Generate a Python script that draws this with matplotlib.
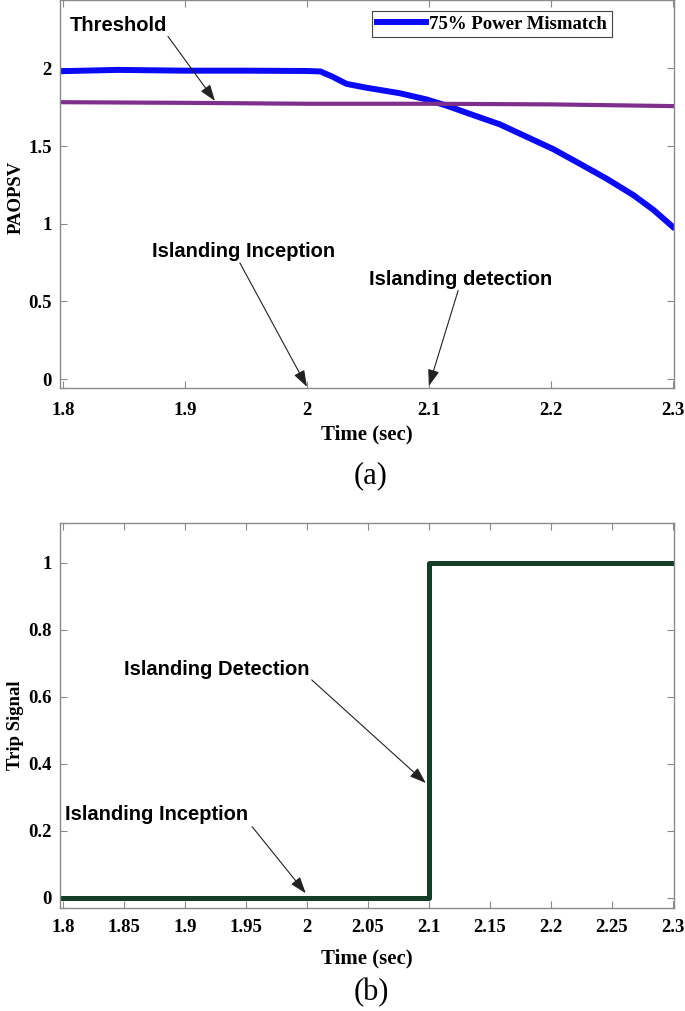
import matplotlib
matplotlib.use("Agg")
import matplotlib.pyplot as plt

# data
t_paopsv = [1.8, 1.845, 1.9, 1.95, 2.0, 2.011, 2.021, 2.0325, 2.049, 2.076, 2.098,
            2.1145, 2.136, 2.158, 2.18, 2.202, 2.224, 2.2457, 2.2675, 2.284, 2.3]
paopsv = [1.982, 1.99, 1.985, 1.985, 1.983, 1.98, 1.946, 1.90, 1.875, 1.84, 1.80,
          1.76, 1.70, 1.64, 1.56, 1.48, 1.385, 1.29, 1.185, 1.09, 0.98]

t_threshold = [1.8, 1.9, 2.0, 2.1, 2.2, 2.3]
threshold = [1.782, 1.778, 1.772, 1.772, 1.768, 1.757]

t_trip = [1.8, 2.1, 2.1, 2.3]
trip = [0, 0, 1, 1]

xticks_a = [1.8, 1.9, 2.0, 2.1, 2.2, 2.3]
xlabels_a = ["1.8", "1.9", "2", "2.1", "2.2", "2.3"]
yticks_a = [0, 0.5, 1, 1.5, 2]
ylabels_a = ["0", "0.5", "1", "1.5", "2"]

xticks_b = [1.8, 1.85, 1.9, 1.95, 2.0, 2.05, 2.1, 2.15, 2.2, 2.25, 2.3]
xlabels_b = ["1.8", "1.85", "1.9", "1.95", "2", "2.05", "2.1", "2.15", "2.2", "2.25", "2.3"]
yticks_b = [0, 0.2, 0.4, 0.6, 0.8, 1]
ylabels_b = ["0", "0.2", "0.4", "0.6", "0.8", "1"]

serif = "Liberation Serif"
sans = "Liberation Sans"
frame = "#8a8a8a"

fig = plt.figure(figsize=(6.85, 10.11), dpi=100)
ax1 = fig.add_axes([0.0876, 0.6165, 0.8963, 0.3835])
ax2 = fig.add_axes([0.0876, 0.1016, 0.8963, 0.3808])


def style_axes(ax, xticks, xlabels, yticks, ylabels, xpad):
    ax.set_xticks(xticks)
    ax.set_xticklabels(xlabels)
    ax.set_yticks(yticks)
    ax.set_yticklabels(ylabels)
    ax.tick_params(direction="in", top=True, right=True, length=5, width=0.8,
                   color=frame, labelsize=13.5)
    ax.tick_params(axis="x", pad=xpad)
    ax.tick_params(axis="y", pad=6)
    for lab in ax.get_xticklabels() + ax.get_yticklabels():
        lab.set_fontfamily(serif)
        lab.set_fontweight("bold")
    for sp in ax.spines.values():
        sp.set_color(frame)
        sp.set_linewidth(1.0)


arrow = dict(arrowstyle="-|>,head_length=1.0,head_width=0.35", lw=0.8,
             color="#222222", shrinkA=0, shrinkB=0)
note = dict(fontfamily=sans, fontweight="bold", fontsize=14.5, ha="left", va="center")


def pointer(ax, tail, head):
    ax.annotate("", xy=head, xytext=tail, arrowprops=arrow, annotation_clip=False)


# (a) PAOPSV
ax1.plot(t_paopsv, paopsv, color="#0a0af5", lw=4.3, label="75% Power Mismatch")
ax1.plot(t_threshold, threshold, color="#7e2f8e", lw=3.0)
ax1.set_xlim(1.7975, 2.301)
ax1.set_ylim(-0.056, 2.44)
style_axes(ax1, xticks_a, xlabels_a, yticks_a, ylabels_a, 10)
ax1.set_xlabel("Time (sec)", fontfamily=serif, fontweight="bold", fontsize=15, labelpad=4)
ax1.set_ylabel("PAOPSV", fontfamily=serif, fontweight="bold", fontsize=13.5)
ax1.yaxis.set_label_coords(-0.058, 0.492)
leg = ax1.legend(loc="upper right", bbox_to_anchor=(0.899, 0.972), borderaxespad=0,
                 fancybox=False, framealpha=1, edgecolor="#444444", handlelength=2.6,
                 borderpad=0.25, handletextpad=0.2,
                 prop=dict(family=serif, weight="bold", size=13.5))
leg.get_frame().set_linewidth(0.8)

ax1.text(1.8057, 2.277, "Threshold", **note)
pointer(ax1, (1.886, 2.206), (1.9246, 1.79))
ax1.text(1.873, 0.819, "Islanding Inception", **note)
pointer(ax1, (1.945, 0.748), (2.0, -0.05))
ax1.text(2.0508, 0.639, "Islanding detection", **note)
pointer(ax1, (2.124, 0.57), (2.1, -0.045))

# (b) trip signal
ax2.plot(t_trip, trip, color="#163d28", lw=3.6)
ax2.set_xlim(1.7975, 2.301)
ax2.set_ylim(-0.032, 1.118)
style_axes(ax2, xticks_b, xlabels_b, yticks_b, ylabels_b, 7.5)
ax2.set_xlabel("Time (sec)", fontfamily=serif, fontweight="bold", fontsize=15, labelpad=9)
ax2.set_ylabel("Trip Signal", fontfamily=serif, fontweight="bold", fontsize=13.5)
ax2.yaxis.set_label_coords(-0.058, 0.476)

ax2.text(1.85, 0.68, "Islanding Detection", **note)
pointer(ax2, (2.004, 0.65), (2.0975, 0.342))
ax2.text(1.802, 0.247, "Islanding Inception", **note)
pointer(ax2, (1.955, 0.212), (1.999, 0.013))

fig.text(0.5416, 0.529, "(a)", ha="center", va="center", fontfamily=serif, fontsize=22)
fig.text(0.5416, 0.0178, "(b)", ha="center", va="center", fontfamily=serif, fontsize=22)

fig.savefig("out.png", dpi=100)
